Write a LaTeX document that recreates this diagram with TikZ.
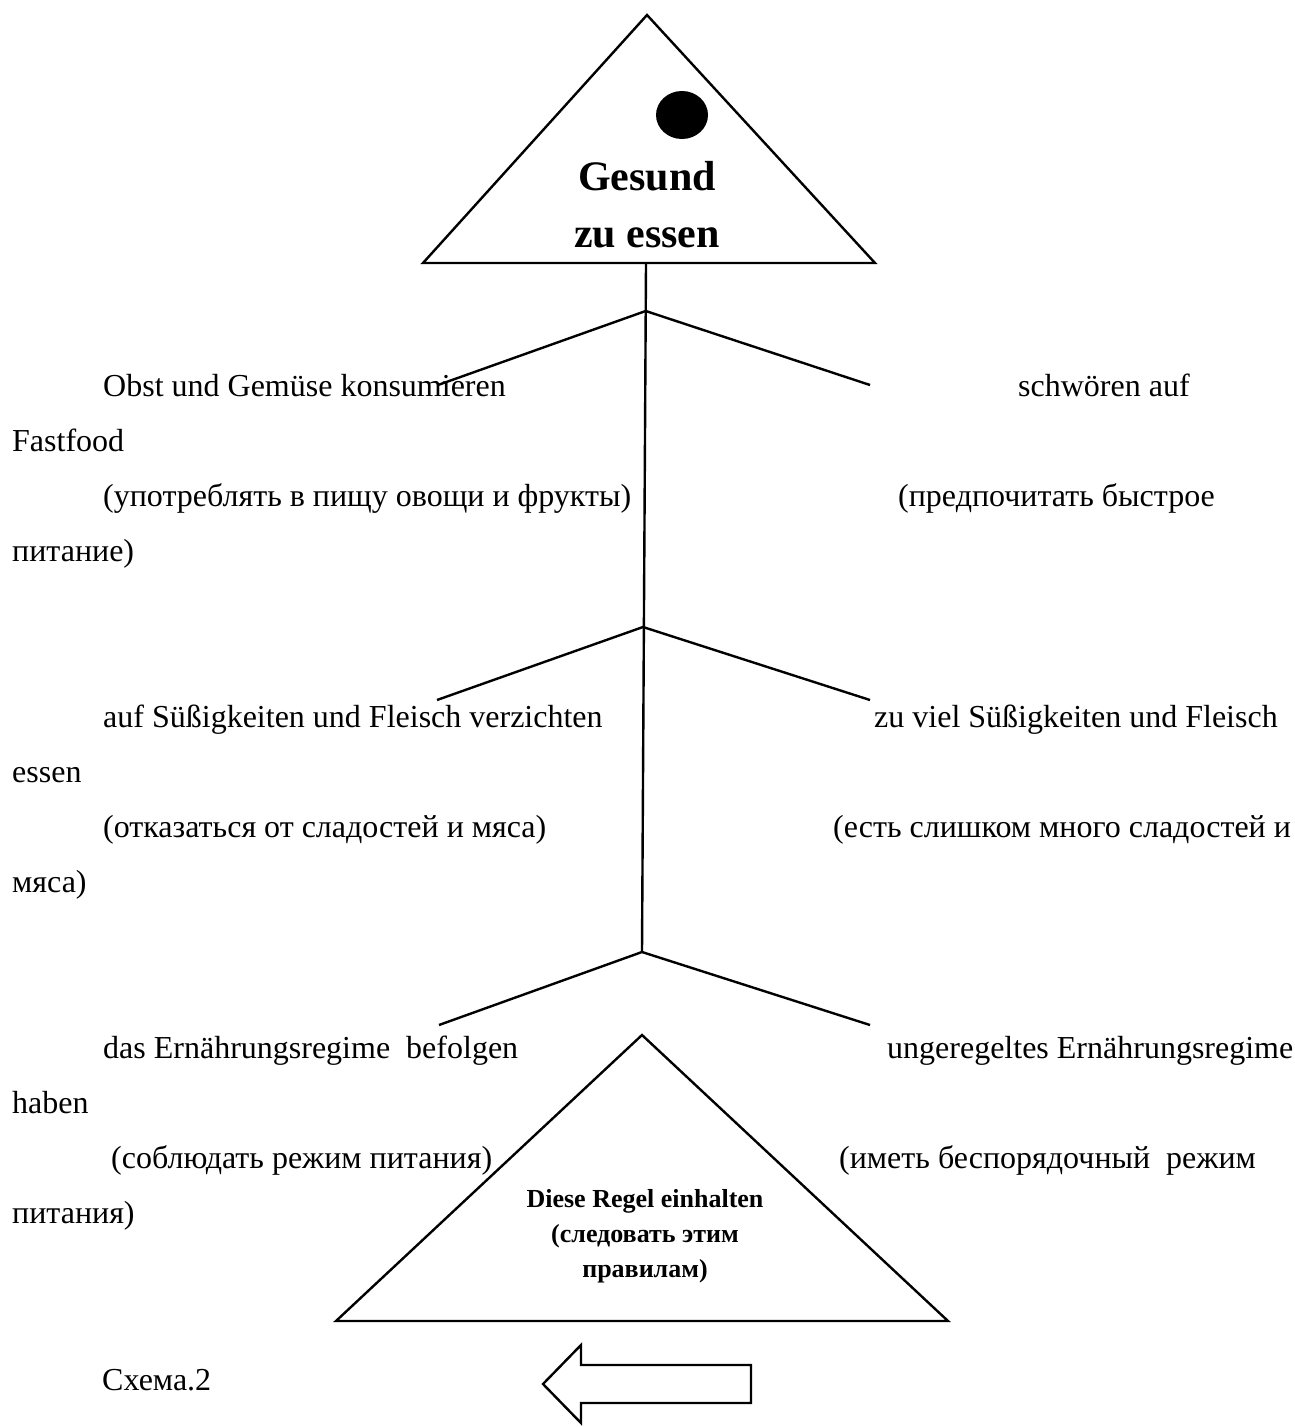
\documentclass[tikz,border=0pt]{standalone}
\usepackage{fontspec}
\setmainfont{Liberation Serif}
\usetikzlibrary{shapes.geometric}
\begin{document}
\begin{tikzpicture}[x=1pt,y=-1pt,
  shape line/.style={line width=2.4pt, line join=miter},
  branch/.style={line width=2.4pt},
  txt/.style={anchor=base west, inner sep=0pt, font=\fontsize{32}{38}\selectfont},
  title/.style={anchor=base, inner sep=0pt, font=\bfseries\fontsize{42}{48}\selectfont},
  rule/.style={anchor=base, inner sep=0pt, font=\bfseries\fontsize{26}{30}\selectfont}]
\useasboundingbox (0,0) rectangle (1295,1427);
\fill[white] (0,0) rectangle (1295,1427);

% top triangle
\coordinate (tA) at (647,15);
\coordinate (tL) at (423,263);
\coordinate (tR) at (875,263);
\draw[shape line] (tA) -- (tL) -- (tR) -- cycle;
\node[ellipse, fill=black, inner sep=0pt, minimum width=52pt, minimum height=48pt] (dot) at (682,115) {};
\node[title] (g1) at (647,190) {Gesund};
\node[title] (g2) at (647,247) {zu essen};

% trunk and branches
\coordinate (t0) at (646,263);
\coordinate (j1) at (645.7,311);
\coordinate (j2) at (643,627);
\coordinate (j3) at (642,952);
\coordinate (l1) at (438,385);
\coordinate (r1) at (870,385);
\coordinate (l2) at (437,700);
\coordinate (r2) at (870,700);
\coordinate (l3) at (439,1025);
\coordinate (r3) at (870,1025);
\draw[branch] (t0) -- (j3);
\draw[branch] (l1) -- (j1) -- (r1);
\draw[branch] (l2) -- (j2) -- (r2);
\draw[branch] (l3) -- (j3) -- (r3);

% group 1
\node[txt] (a1) at (103,396) {Obst und Gemüse konsumieren};
\node[txt] (a2) at (1018,396) {schwören auf};
\node[txt] (a3) at (12,451.2) {Fastfood};
\node[txt] (a4) at (103,506.4) {(употреблять в пищу овощи и фрукты)};
\node[txt] (a5) at (898,506.4) {(предпочитать быстрое};
\node[txt] (a6) at (12,561.6) {питание)};

% group 2
\node[txt] (b1) at (103,727.2) {auf Süßigkeiten und Fleisch verzichten};
\node[txt] (b2) at (874,727.2) {zu viel Süßigkeiten und Fleisch};
\node[txt] (b3) at (12,782.4) {essen};
\node[txt] (b4) at (103,837.6) {(отказаться от сладостей и мяса)};
\node[txt] (b5) at (833,837.6) {(есть слишком много сладостей и};
\node[txt] (b6) at (12,892.8) {мяса)};

% group 3
\node[txt] (c1) at (103,1058) {das Ernährungsregime\ \ befolgen};
\node[txt] (c2) at (887,1058) {ungeregeltes Ernährungsregime};
\node[txt] (c3) at (12,1113.2) {haben};
\node[txt] (c4) at (111,1168.4) {(соблюдать режим питания)};
\node[txt] (c5) at (839,1168.4) {(иметь беспорядочный\ \ режим};
\node[txt] (c6) at (12,1223.6) {питания)};

% bottom triangle
\coordinate (bA) at (642,1035);
\coordinate (bL) at (336,1321);
\coordinate (bR) at (948,1321);
\draw[shape line] (bA) -- (bL) -- (bR) -- cycle;
\node[rule] (d1) at (645,1207) {Diese Regel einhalten};
\node[rule] (d2) at (645,1242) {(следовать этим};
\node[rule] (d3) at (645,1277) {правилам)};

% caption and arrow
\node[txt] (cap) at (102,1390) {Схема.2};
\draw[shape line] (543,1384) -- (581,1345) -- (581,1365) -- (751,1365) -- (751,1403) -- (581,1403) -- (581,1423) -- cycle;
\end{tikzpicture}
\end{document}
